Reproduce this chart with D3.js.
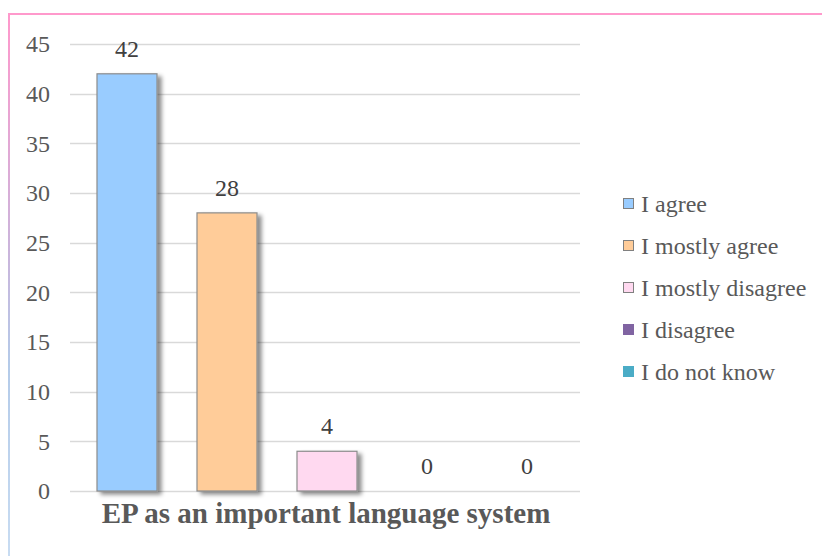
<!DOCTYPE html>
<html>
<head>
<meta charset="utf-8">
<script src="https://cdn.jsdelivr.net/npm/d3@7"></script>
<style>
  html, body { margin: 0; padding: 0; background: #fff; }
  svg { display: block; }
</style>
</head>
<body>
<svg id="chart" width="822" height="556"></svg>
<script>
// Survey responses: "EP as an important language system"
const categories = ["I agree", "I mostly agree", "I mostly disagree", "I disagree", "I do not know"];
const counts = [42, 28, 4, 0, 0];
const yTicks = [0, 5, 10, 15, 20, 25, 30, 35, 40, 45];
const title = "EP as an important language system";

const palette = ["#99ccff", "#ffcc99", "#ffd9f0", "#8064a2", "#4bacc6"];
const outlined = [true, true, true, false, false];
const FONT = "Liberation Serif";

const svg = d3.select("#chart");
const defs = svg.append("defs");

// Soft shadow behind the bars
const shadow = defs.append("filter").attr("id", "barShadow")
  .attr("x", "-20%").attr("y", "-20%").attr("width", "160%").attr("height", "140%");
shadow.append("feDropShadow")
  .attr("dx", 4).attr("dy", 3).attr("stdDeviation", 2.2)
  .attr("flood-color", "#000").attr("flood-opacity", 0.45);

// Frame gradient for the left edge
const grad = defs.append("linearGradient").attr("id", "frameGrad")
  .attr("x1", 0).attr("y1", 0).attr("x2", 0).attr("y2", 1);
grad.append("stop").attr("offset", "0%").attr("stop-color", "#ff99cc");
grad.append("stop").attr("offset", "45%").attr("stop-color", "#c9b6dc");
grad.append("stop").attr("offset", "65%").attr("stop-color", "#b4cbe9");
grad.append("stop").attr("offset", "100%").attr("stop-color", "#c8dcf2");

// Frame
svg.append("rect").attr("x", 8).attr("y", 15).attr("width", 2).attr("height", 541)
  .attr("fill", "url(#frameGrad)");
svg.append("rect").attr("x", 8).attr("y", 13).attr("width", 814).attr("height", 2)
  .attr("fill", "#ff99cc");

// Scales
const y = d3.scaleLinear().domain([0, 45]).range([491, 44]);
const x = d3.scaleBand().domain(categories).range([77, 577])
  .paddingInner(0.4).paddingOuter(0.2);

// Gridlines
svg.append("g").selectAll("line").data(yTicks).join("line")
  .attr("x1", 70).attr("x2", 580)
  .attr("y1", d => Math.round(y(d)) + 0.5).attr("y2", d => Math.round(y(d)) + 0.5)
  .attr("stroke", "#d9d9d9").attr("stroke-width", 1.5);

// Y axis labels
const yAxis = d3.axisLeft(y).tickValues(yTicks).tickSize(0).tickPadding(0);
const gy = svg.append("g").attr("transform", "translate(50,0)").call(yAxis);
gy.select(".domain").remove();
gy.attr("font-family", null).attr("font-size", null);
gy.selectAll("text")
  .style("font-family", FONT)
  .style("font-size", "24px").attr("fill", "#595959");

// Bars
svg.append("g").selectAll("rect").data(categories).join("rect")
  .filter((d, i) => counts[i] > 0)
  .attr("x", d => x(d))
  .attr("y", d => y(counts[categories.indexOf(d)]))
  .attr("width", x.bandwidth())
  .attr("height", d => y(0) - y(counts[categories.indexOf(d)]))
  .attr("fill", d => palette[categories.indexOf(d)])
  .attr("stroke", "#8c8c8c").attr("stroke-width", 1.2)
  .attr("filter", "url(#barShadow)");

// Value labels
svg.append("g").selectAll("text").data(categories).join("text")
  .attr("x", d => x(d) + x.bandwidth() / 2)
  .attr("y", d => y(counts[categories.indexOf(d)]) - 17)
  .attr("text-anchor", "middle")
  .style("font-family", FONT).style("font-size", "24px").attr("fill", "#404040")
  .text(d => counts[categories.indexOf(d)]);

// Category title under the axis
svg.append("text")
  .attr("x", (x.range()[0] + x.range()[1]) / 2 - 1)
  .attr("y", 523)
  .attr("text-anchor", "middle")
  .style("font-family", FONT).style("font-size", "29px").style("font-weight", "bold")
  .attr("fill", "#595959")
  .text(title);

// Legend
const legend = svg.append("g").attr("transform", "translate(623,204)");
const rows = legend.selectAll("g").data(categories).join("g")
  .attr("transform", (d, i) => `translate(0,${i * 42})`);
rows.append("rect")
  .attr("x", 0.5).attr("y", -5.5).attr("width", 10).attr("height", 10)
  .attr("fill", (d, i) => palette[i])
  .attr("stroke", (d, i) => outlined[i] ? "#808080" : palette[i])
  .attr("stroke-width", 1);
rows.append("text")
  .attr("x", 18).attr("y", 0).attr("dy", "0.33em")
  .style("font-family", FONT).style("font-size", "24px").attr("fill", "#595959")
  .text(d => d);
</script>
</body>
</html>
